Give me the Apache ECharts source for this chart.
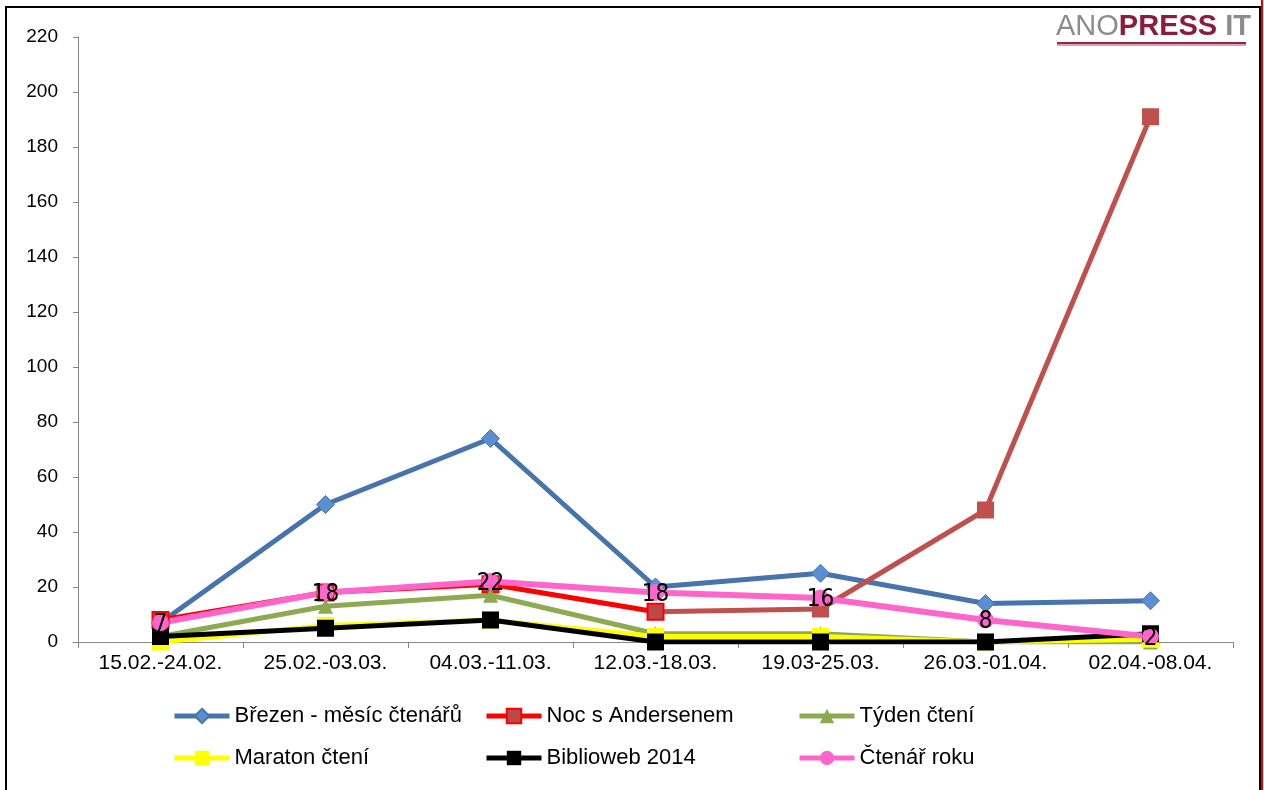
<!DOCTYPE html>
<html>
<head>
<meta charset="utf-8">
<script src="https://cdn.jsdelivr.net/npm/echarts@6/dist/echarts.min.js"></script>
<style>
  html, body { margin: 0; padding: 0; background: #fff; }
  #chart { width: 1264px; height: 790px; }
</style>
</head>
<body>
<div id="chart"></div>
<script>
// Weekly counts per campaign
const categories = ['15.02.-24.02.', '25.02.-03.03.', '04.03.-11.03.', '12.03.-18.03.', '19.03-25.03.', '26.03.-01.04.', '02.04.-08.04.'];
const brezen    = [7, 50, 74, 20, 25, 14, 15];
const noc       = [8, 18, 21, 11, 12, 48, 191];
const tyden     = [2, 13, 17, 3, 3, 0, 0];
const maraton   = [0, 6, 8, 2, 2, 0, 1];
const biblioweb = [2, 5, 8, 0, 0, 0, 3];
const ctenar    = [7, 18, 22, 18, 16, 8, 2];
const yTicks = { min: 0, max: 220, step: 20 };
const seriesNames = ['Březen - měsíc čtenářů', 'Noc s Andersenem', 'Týden čtení', 'Maraton čtení', 'Biblioweb 2014', 'Čtenář roku'];

// "Noc s Andersenem" changes colour after the 4th week
const nocSplit = 3;
const nocEarly = noc.map((v, i) => (i <= nocSplit ? v : null));
const nocLate = noc.map((v, i) => (i < nocSplit ? null : (i === nocSplit ? { value: v, symbol: 'none' } : v)));

const axisGrey = '#868686';
const font = '"Liberation Sans", Arial, sans-serif';

const chart = echarts.init(document.getElementById('chart'), null, { renderer: 'canvas' });

function legendAt(name, left, top) {
  return {
    data: [name],
    left: left,
    top: top,
    padding: 0,
    itemWidth: 55,
    itemHeight: 18,
    selectedMode: false,
    lineStyle: { width: 5 },
    textStyle: { fontFamily: font, fontSize: 22, color: '#000' }
  };
}

chart.setOption({
  animation: false,
  backgroundColor: '#fff',
  grid: { left: 78, right: 31, top: 37, bottom: 148 },
  legend: [
    legendAt(seriesNames[0], 172, 705),
    legendAt(seriesNames[1], 484, 705),
    legendAt(seriesNames[2], 797, 705),
    legendAt(seriesNames[3], 172, 747),
    legendAt(seriesNames[4], 484, 747),
    legendAt(seriesNames[5], 797, 747)
  ],
  xAxis: {
    type: 'category',
    data: categories,
    boundaryGap: true,
    axisLine: { lineStyle: { color: axisGrey, width: 1 } },
    axisTick: { show: true, length: 6, lineStyle: { color: axisGrey } },
    axisLabel: { fontFamily: font, fontSize: 21, color: '#000', margin: 11 },
    splitLine: { show: false }
  },
  yAxis: {
    type: 'value',
    min: yTicks.min,
    max: yTicks.max,
    interval: yTicks.step,
    axisLine: { show: true, lineStyle: { color: axisGrey, width: 1 } },
    axisTick: { show: true, length: 5, lineStyle: { color: axisGrey } },
    axisLabel: { fontFamily: font, fontSize: 19, color: '#000', margin: 20 },
    splitLine: { show: false }
  },
  graphic: [
    // outer frame
    { type: 'rect', shape: { x: 6, y: 7, width: 1254, height: 820 }, style: { fill: 'none', stroke: '#000', lineWidth: 2 }, silent: true },
    { type: 'rect', shape: { x: 1261, y: 0, width: 2, height: 790 }, style: { fill: '#E00000' }, silent: true },
    // logo
    {
      type: 'text',
      left: 1056,
      top: 12,
      style: {
        text: '{a|ANO}{b|PRESS}{c| IT}',
        rich: {
          a: { fontFamily: font, fontSize: 29, fontWeight: 'normal', fill: '#8C8C8C' },
          b: { fontFamily: font, fontSize: 29, fontWeight: 'bold', fill: '#8E1B3C' },
          c: { fontFamily: font, fontSize: 29, fontWeight: 'bold', fill: '#8C8C8C' }
        }
      },
      silent: true
    },
    { type: 'rect', shape: { x: 1057, y: 42, width: 189, height: 2 }, style: { fill: '#9A2443' }, silent: true },
    { type: 'rect', shape: { x: 1057, y: 44, width: 189, height: 2 }, style: { fill: '#D9A3B0' }, silent: true }
  ],
  series: [
    {
      name: seriesNames[0], type: 'line', data: brezen,
      symbol: 'diamond', symbolSize: 18,
      lineStyle: { color: '#4674AB', width: 5 },
      itemStyle: { color: '#5A8FD4', borderColor: '#4674AB', borderWidth: 1 }
    },
    {
      name: seriesNames[1], type: 'line', data: nocEarly,
      symbol: 'rect', symbolSize: 16,
      lineStyle: { color: '#FF0000', width: 5 },
      itemStyle: { color: '#B94A47', borderColor: '#FF0000', borderWidth: 2 }
    },
    {
      name: seriesNames[1], type: 'line', data: nocLate,
      symbol: 'rect', symbolSize: 17,
      lineStyle: { color: '#C0504D', width: 5 },
      itemStyle: { color: '#C0504D' }
    },
    {
      name: seriesNames[2], type: 'line', data: tyden,
      symbol: 'triangle', symbolSize: 15,
      lineStyle: { color: '#8DAA52', width: 5 },
      itemStyle: { color: '#8DAA52' }
    },
    {
      name: seriesNames[3], type: 'line', data: maraton,
      symbol: 'rect', symbolSize: 17,
      lineStyle: { color: '#FFFF00', width: 5 },
      itemStyle: { color: '#FFFF00' }
    },
    {
      name: seriesNames[4], type: 'line', data: biblioweb,
      symbol: 'rect', symbolSize: 17,
      lineStyle: { color: '#000000', width: 5 },
      itemStyle: { color: '#000000' }
    },
    {
      name: seriesNames[5], type: 'line', data: ctenar,
      symbol: 'circle', symbolSize: 17,
      lineStyle: { color: '#FF66CC', width: 6 },
      itemStyle: { color: '#FF66CC' },
      label: {
        show: true, position: 'inside', offset: [0, 2],
        fontFamily: '"Liberation Sans Narrow", "DejaVu Sans Condensed", sans-serif',
        fontSize: 24, color: '#000'
      }
    }
  ]
});
</script>
</body>
</html>
